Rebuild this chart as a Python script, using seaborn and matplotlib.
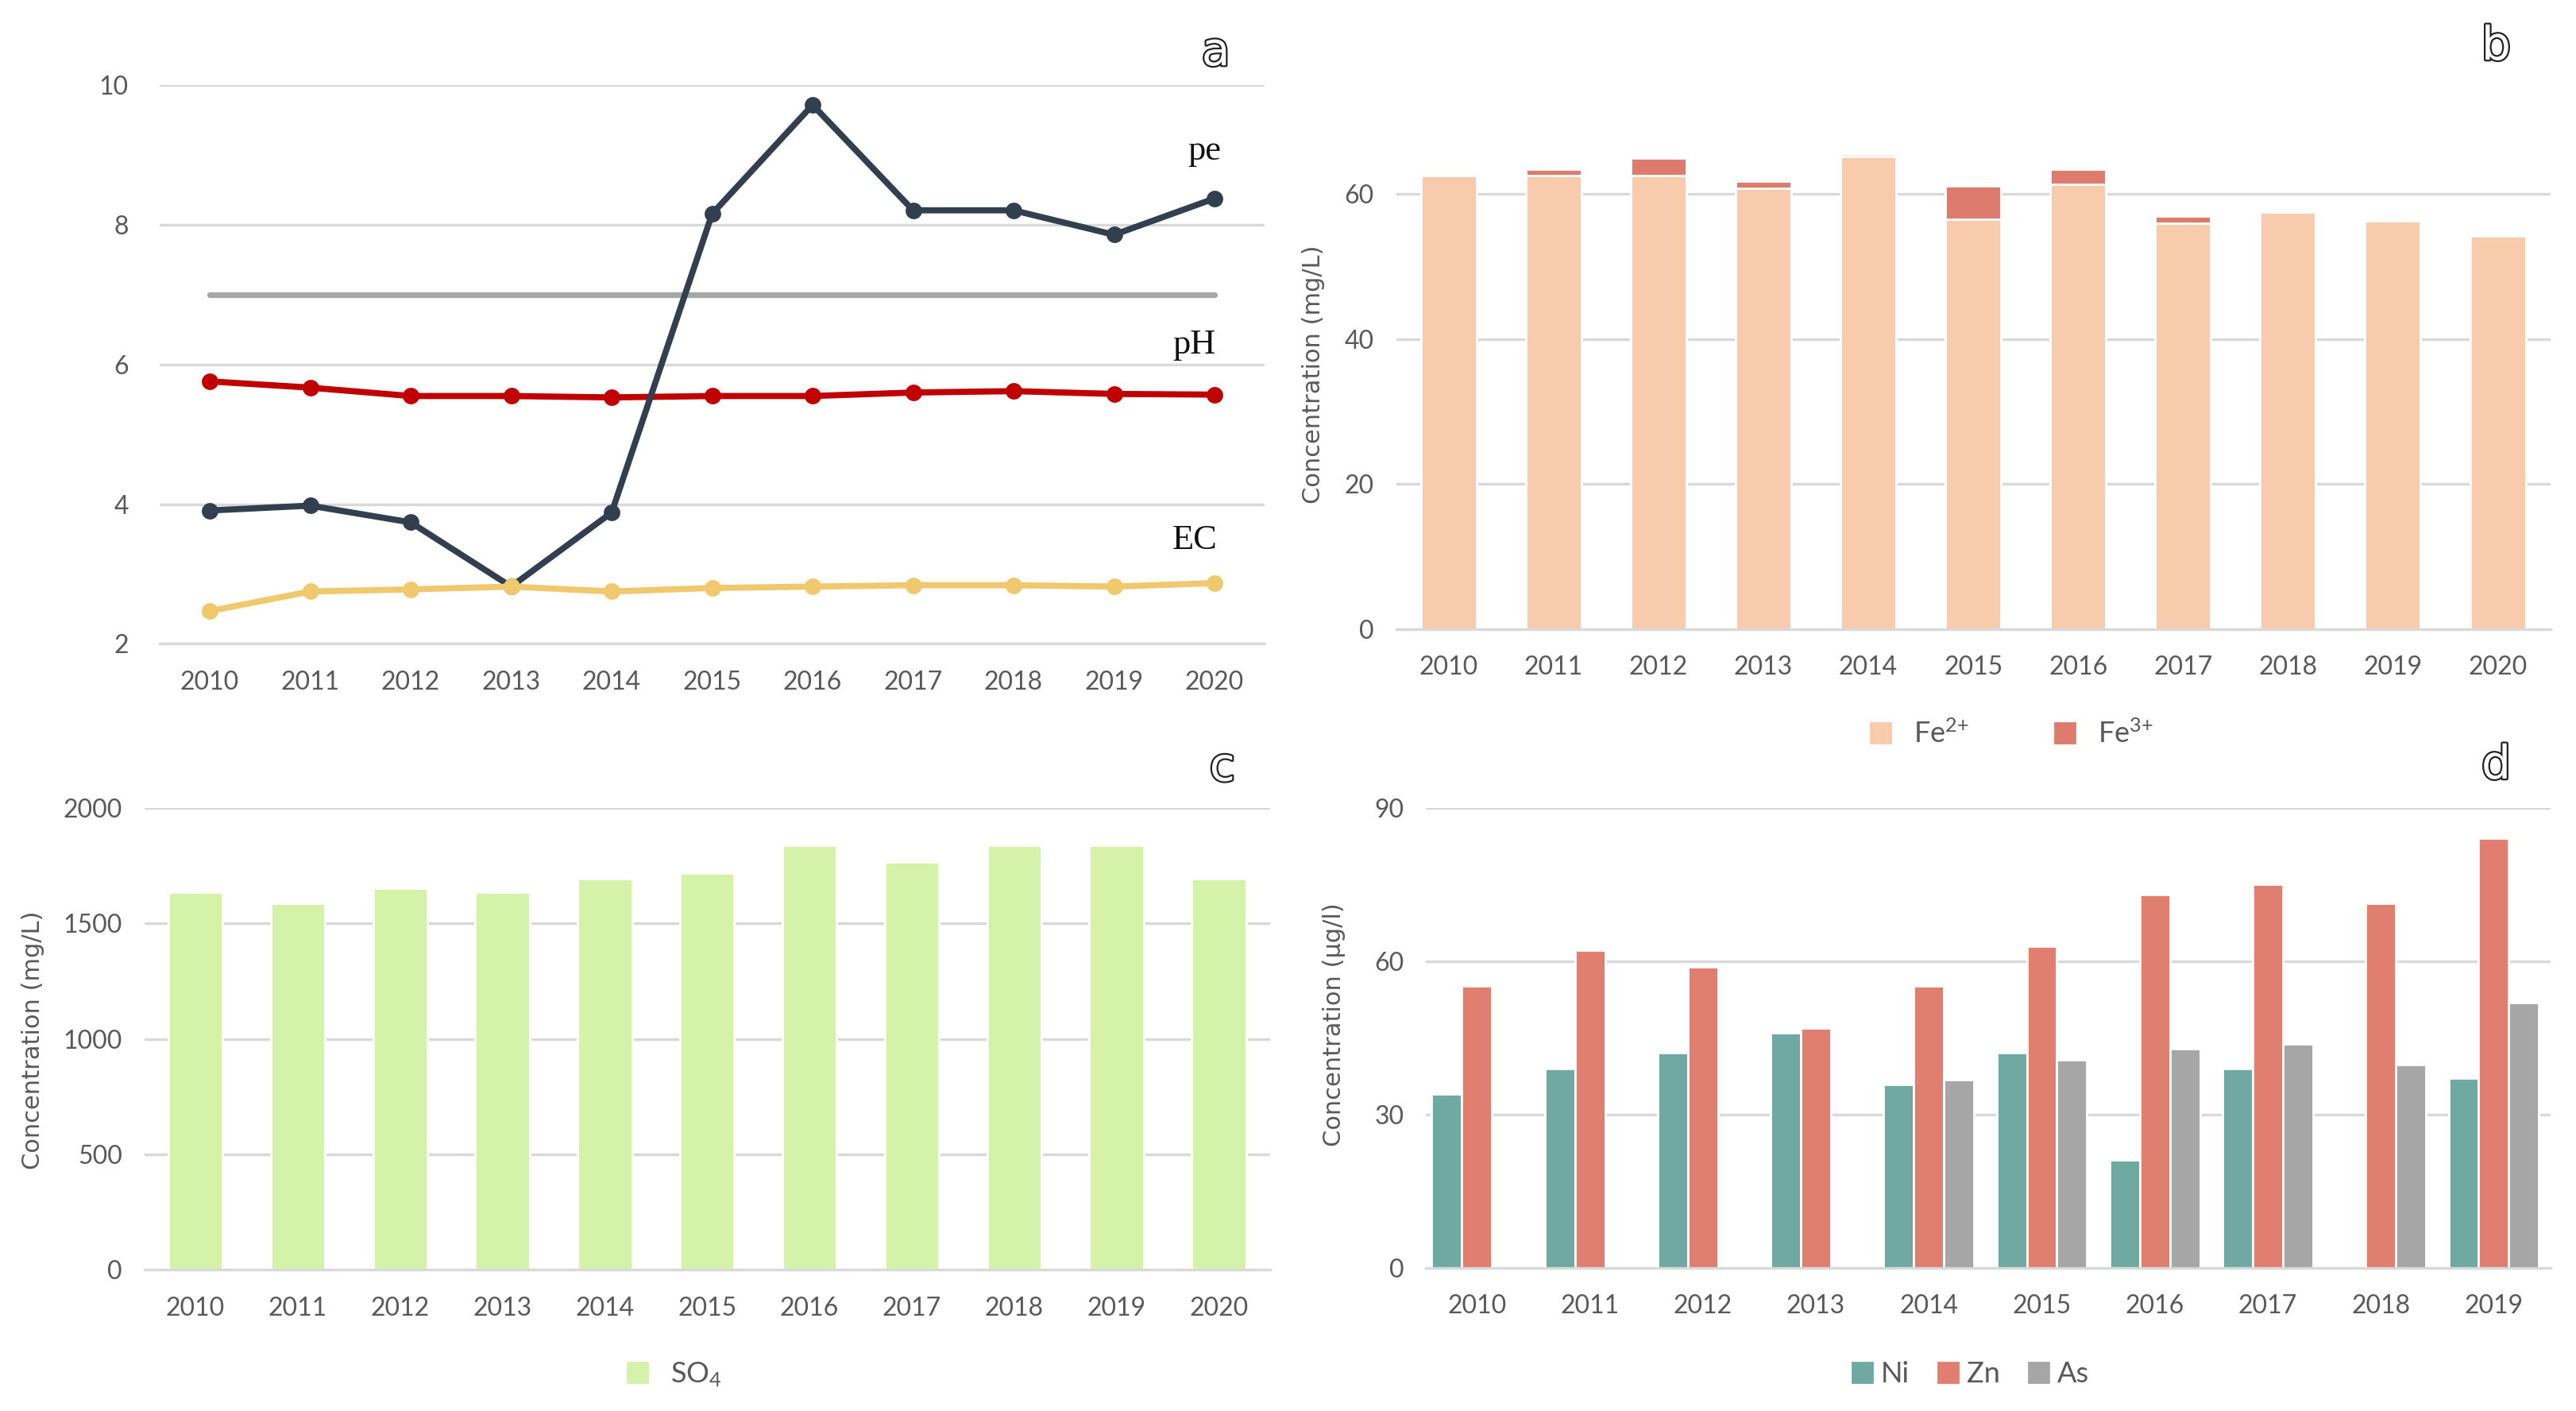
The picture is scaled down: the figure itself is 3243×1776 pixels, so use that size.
import numpy as np
import pandas as pd
import matplotlib.pyplot as plt
import matplotlib.patheffects as path_effects
from matplotlib.patches import Patch
import seaborn as sns

sns.set_theme(style="white")
plt.rcParams['font.family'] = ['Lato', 'DejaVu Sans']
plt.rcParams['mathtext.fontset'] = 'custom'
plt.rcParams['mathtext.rm'] = 'Lato'
plt.rcParams['mathtext.default'] = 'rm'

# ---- data ----
years = [2010, 2011, 2012, 2013, 2014, 2015, 2016, 2017, 2018, 2019, 2020]

pe_vals = [3.91, 3.98, 3.74, 2.82, 3.88, 8.16, 9.72, 8.21, 8.21, 7.86, 8.38]
ph_vals = [5.76, 5.67, 5.55, 5.55, 5.53, 5.55, 5.55, 5.60, 5.62, 5.58, 5.57]
ec_vals = [2.47, 2.75, 2.78, 2.82, 2.75, 2.80, 2.82, 2.84, 2.84, 2.82, 2.87]
neutral = [7.0] * 11

fe2 = [62.5, 62.5, 62.5, 60.8, 65.2, 56.5, 61.3, 56.0, 57.5, 56.3, 54.2]
fe3 = [0.0, 0.9, 2.4, 1.0, 0.3, 4.6, 2.1, 0.9, 0.0, 0.2, 0.0]

so4 = [1637, 1587, 1652, 1637, 1693, 1718, 1838, 1766, 1838, 1838, 1693]

years_d = [2010, 2011, 2012, 2013, 2014, 2015, 2016, 2017, 2018, 2019]
ni = [34.0, 39.0, 42.2, 46.1, 36.0, 42.2, 21.1, 39.0, np.nan, 37.2]
zn = [55.2, 62.2, 59.0, 47.0, 55.2, 63.0, 73.1, 75.1, 71.3, 84.1]
as_ = [np.nan, np.nan, np.nan, np.nan, 36.8, 40.8, 42.9, 43.9, 39.8, 51.9]

# ---- style ----
TXT = '#595959'
GRID = '#d9d9d9'
TICK_FS = 11.5
LEG_FS = 13

fig = plt.figure(figsize=(16.215, 8.88), dpi=200)


def style_axis(ax, ypad=10):
    for s in ['top', 'right', 'left']:
        ax.spines[s].set_visible(False)
    ax.spines['bottom'].set_color(GRID)
    ax.spines['bottom'].set_linewidth(1.2)
    ax.yaxis.grid(True, color=GRID, linewidth=1.2)
    ax.xaxis.grid(False)
    ax.set_axisbelow(True)
    ax.tick_params(axis='both', which='major', length=0, labelsize=TICK_FS, labelcolor=TXT)
    ax.tick_params(axis='x', pad=12)
    ax.tick_params(axis='y', pad=ypad)
    ax.set_xlabel('')
    ax.set_ylabel('')


def panel_letter(x, y, s):
    t = fig.text(x, y, s, fontsize=21, color='white', family='DejaVu Sans',
                 ha='center', va='center')
    t.set_path_effects([path_effects.Stroke(linewidth=1.6, foreground='#222222'),
                        path_effects.Normal()])


# ---- panel a ----
ax_a = fig.add_axes([0.0619, 0.5437, 0.4291, 0.3958])
line_kw = dict(linewidth=2.8, marker='o', markersize=7.5, markeredgewidth=0, ax=ax_a)
sns.lineplot(x=years, y=neutral, color='#a6a6a6', linewidth=2.6, ax=ax_a)
sns.lineplot(x=years, y=ph_vals, color='#c00000', **line_kw)
sns.lineplot(x=years, y=pe_vals, color='#323f4f', **line_kw)
sns.lineplot(x=years, y=ec_vals, color='#f0c96e', **line_kw)
ax_a.set_xlim(2009.5, 2020.5)
ax_a.set_ylim(2, 10)
ax_a.set_yticks([2, 4, 6, 8, 10])
ax_a.set_xticks(years)
ax_a.set_xticklabels([str(y) for y in years])
style_axis(ax_a, ypad=14)
ax_a.set_xticks(np.arange(2009.5, 2021, 1.0), minor=True)
ax_a.tick_params(axis='x', which='minor', length=7, color=GRID, width=1.2, direction='out')
for lab, xy in [('pe', (2019.9, 9.06)), ('pH', (2019.8, 6.28)), ('EC', (2019.8, 3.48))]:
    ax_a.text(xy[0], xy[1], lab, fontsize=16, family='Liberation Serif',
              color='#111111', ha='center', va='center')

# ---- panel b ----
ax_b = fig.add_axes([0.542, 0.554, 0.448, 0.36])
df_b = pd.DataFrame({'year': [str(y) for y in years], 'Fe2': fe2, 'Fe3': fe3})
df_b['total'] = df_b['Fe2'] + df_b['Fe3']
sns.barplot(data=df_b, x='year', y='total', color='#dc7b6e', width=0.53,
            saturation=1, ax=ax_b)
sns.barplot(data=df_b, x='year', y='Fe2', color='#f8cbad', width=0.53,
            saturation=1, ax=ax_b)
ax_b.set_ylim(0, 70)
ax_b.set_yticks([0, 20, 40, 60])
ax_b.set_xlim(-0.5, 10.5)
style_axis(ax_b)
ax_b.legend(handles=[Patch(color='#f8cbad', label=r'Fe$^{2{+}}$'),
                     Patch(color='#dc7b6e', label=r'Fe$^{3{+}}$')],
            loc='center', bbox_to_anchor=(0.781, 0.480), bbox_transform=fig.transFigure,
            ncol=2, frameon=False, fontsize=LEG_FS, labelcolor=TXT,
            handlelength=0.7, handleheight=0.7, columnspacing=3.0, handletextpad=0.8)
fig.text(0.510, 0.7346, 'Concentration (mg/L)', rotation=90, fontsize=11,
         family='DejaVu Sans', color=TXT, ha='center', va='center')

# ---- panel c ----
ax_c = fig.add_axes([0.056, 0.100, 0.437, 0.3273])
df_c = pd.DataFrame({'year': [str(y) for y in years], 'SO4': so4})
sns.barplot(data=df_c, x='year', y='SO4', color='#d4f3a9', width=0.53,
            saturation=1, ax=ax_c)
ax_c.set_ylim(0, 2000)
ax_c.set_yticks([0, 500, 1000, 1500, 2000])
ax_c.set_xlim(-0.5, 10.5)
style_axis(ax_c)
ax_c.legend(handles=[Patch(color='#d4f3a9', label=r'SO$_4$')],
            loc='center', bbox_to_anchor=(0.262, 0.026), bbox_transform=fig.transFigure,
            frameon=False, fontsize=LEG_FS, labelcolor=TXT,
            handlelength=0.7, handleheight=0.7, handletextpad=0.8)
fig.text(0.0128, 0.263, 'Concentration (mg/L)', rotation=90, fontsize=11,
         family='DejaVu Sans', color=TXT, ha='center', va='center')

# ---- panel d ----
ax_d = fig.add_axes([0.5536, 0.1013, 0.4364, 0.326])
df_d = pd.DataFrame({'year': [str(y) for y in years_d] * 3,
                     'metal': ['Ni'] * 10 + ['Zn'] * 10 + ['As'] * 10,
                     'value': ni + zn + as_}).dropna()
sns.barplot(data=df_d, x='year', y='value', hue='metal', hue_order=['Ni', 'Zn', 'As'],
            palette=['#70a9a1', '#e07e70', '#a6a6a6'], width=0.8, saturation=1,
            order=[str(y) for y in years_d], ax=ax_d)
ax_d.set_ylim(0, 90)
ax_d.set_yticks([0, 30, 60, 90])
ax_d.set_xlim(-0.45, 9.5)
style_axis(ax_d)
ax_d.get_legend().remove()
ax_d.legend(handles=[Patch(color='#70a9a1', label='Ni'),
                     Patch(color='#e07e70', label='Zn'),
                     Patch(color='#a6a6a6', label='As')],
            loc='center', bbox_to_anchor=(0.765, 0.026), bbox_transform=fig.transFigure,
            ncol=3, frameon=False, fontsize=LEG_FS, labelcolor=TXT,
            handlelength=0.7, handleheight=0.7, columnspacing=1.0, handletextpad=0.3)
fig.text(0.518, 0.274, 'Concentration (\u03bcg/l)', rotation=90, fontsize=11,
         family='DejaVu Sans', color=TXT, ha='center', va='center')

panel_letter(0.472, 0.963, 'a')
panel_letter(0.969, 0.967, 'b')
panel_letter(0.4745, 0.456, 'c')
panel_letter(0.969, 0.4575, 'd')

fig.savefig('out.png', dpi=200, facecolor='white')
